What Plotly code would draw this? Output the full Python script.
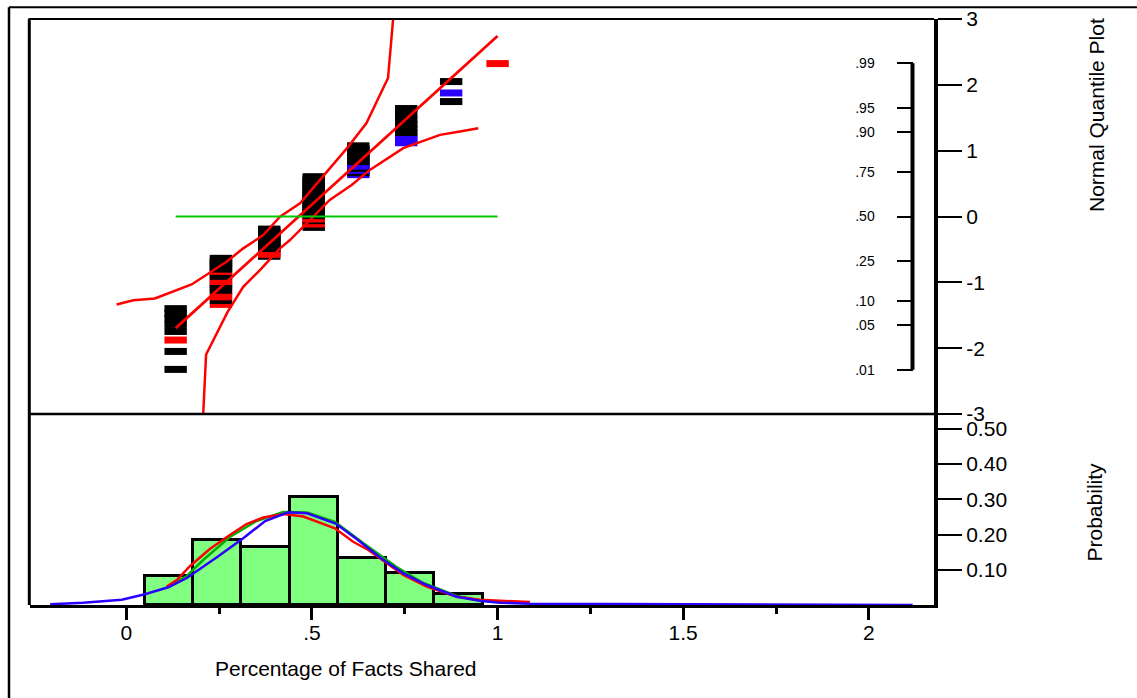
import plotly.graph_objects as go
from statistics import NormalDist

# ---- data -------------------------------------------------------------
# Distinct values of "Percentage of Facts Shared" and how many rows hold each
fact_values = [0.133, 0.255, 0.385, 0.505, 0.625, 0.754, 0.875, 1.0]
row_counts = [8, 18, 16, 30, 13, 9, 3, 1]

# Row-state colours inside each value group, lowest rank first
# (k = black, r = red, b = blue)
row_states = [
    "kkrkkkkk",
    "rkrrkkkrrkkrkkkkkk",
    "krrrkkkkkkkkkkkk",
    "kkrrkrr" + "k" * 23,
    "bkbkbbkkkkkkk",
    "bbbkkkkkk",
    "kbk",
    "r",
]

# Confidence band curves of the normal quantile plot (value, normal quantile)
band_upper_x = [-0.026, 0.019, 0.077, 0.176, 0.270, 0.315, 0.369, 0.414,
                0.468, 0.530, 0.598, 0.647, 0.705, 0.719]
band_upper_z = [-1.336, -1.271, -1.245, -1.032, -0.688, -0.484, -0.282, -0.003,
                0.201, 0.606, 1.062, 1.419, 2.104, 3.02]
band_lower_x = [0.207, 0.215, 0.273, 0.315, 0.360, 0.414, 0.441, 0.486,
                0.548, 0.607, 0.656, 0.746, 0.845, 0.899, 0.948]
band_lower_z = [-3.02, -2.097, -1.449, -1.068, -0.814, -0.484, -0.358, -0.104,
                0.251, 0.479, 0.708, 1.038, 1.240, 1.291, 1.342]

# Histogram bins
hist_start = 0.05
hist_width = 0.13
hist_bins = 7

# Fitted density curves drawn over the histogram (value, probability)
normal_x = [-0.205, -0.116, -0.012, 0.050, 0.113, 0.163, 0.243, 0.315, 0.374,
            0.436, 0.487, 0.564, 0.624, 0.686, 0.746, 0.809, 0.890, 0.952,
            1.006, 1.087, 2.118]
normal_p = [0.002, 0.0065, 0.0148, 0.0304, 0.0502, 0.0766, 0.1348, 0.1892,
            0.2383, 0.2630, 0.2601, 0.2312, 0.1844, 0.1325, 0.0899, 0.0567,
            0.0235, 0.0122, 0.0065, 0.0037, 0.0]
smooth_x = [0.109, 0.136, 0.172, 0.225, 0.279, 0.324, 0.369, 0.423, 0.477,
            0.504, 0.562, 0.611, 0.652, 0.683, 0.746, 0.809, 0.890, 0.952, 1.087]
smooth_p = [0.0525, 0.0709, 0.1106, 0.1589, 0.1986, 0.2298, 0.2482, 0.2582,
            0.2511, 0.2411, 0.2175, 0.1795, 0.1560, 0.1324, 0.0851, 0.0525,
            0.0235, 0.0147, 0.0085]
alt_x = [0.109, 0.163, 0.207, 0.279, 0.351, 0.423, 0.487, 0.562, 0.638, 0.728,
         0.800, 0.890, 0.952, 1.087]
alt_p = [0.0511, 0.0823, 0.1277, 0.1929, 0.2383, 0.2638, 0.2624, 0.2355,
         0.1759, 0.1078, 0.0624, 0.0255, 0.0128, 0.0048]

# Axis ticks
x_ticks = [0, 0.5, 1, 1.5, 2]
x_tick_text = ["0", ".5", "1", "1.5", "2"]
x_minor_ticks = [0.25, 0.75, 1.25, 1.75]
quantile_ticks = [-3, -2, -1, 0, 1, 2, 3]
quantile_tick_text = ["-3", "-2", "-1", "0", "1", "2", "3"]
prob_ticks = [0.01, 0.05, 0.10, 0.25, 0.50, 0.75, 0.90, 0.95, 0.99]
prob_tick_text = [".01", ".05", ".10", ".25", ".50", ".75", ".90", ".95", ".99"]
hist_ticks = [0.10, 0.20, 0.30, 0.40, 0.50]
hist_tick_text = ["0.10", "0.20", "0.30", "0.40", "0.50"]

# ---- derived values ---------------------------------------------------
nd = NormalDist()
n_rows = sum(row_counts)
colour_map = {"k": "#000000", "r": "#ff0000", "b": "#2a00ff"}

pts_x, pts_z, pts_col = [], [], []
rank = 0
for v, c, states in zip(fact_values, row_counts, row_states):
    for j in range(c):
        rank += 1
        pts_x.append(v)
        pts_z.append(nd.inv_cdf(rank / (n_rows + 1)))
        pts_col.append(colour_map[states[j]])

mean = sum(v * c for v, c in zip(fact_values, row_counts)) / n_rows
var = sum(c * (v - mean) ** 2 for v, c in zip(fact_values, row_counts)) / (n_rows - 1)
sd = var ** 0.5
x_lo, x_hi = min(fact_values), max(fact_values)

bin_centres = [hist_start + hist_width * (i + 0.5) for i in range(hist_bins)]
bin_probs = [c / n_rows for c in row_counts[:hist_bins]]

prob_z = [nd.inv_cdf(p) for p in prob_ticks]

# ---- layout geometry --------------------------------------------------
W, H = 1137, 698
ML, MR, MT, MB = 30, 203, 19, 93
PW = W - ML - MR
PH = H - MT - MB
split = 191 / PH          # height share of the histogram panel
x_range = [-0.2593, 2.1755]
hist_top = 191 / 352.5


def px_x(px):
    return (px - ML) / PW


def px_y(py):
    return (H - MB - py) / PH


FONT = "Liberation Sans, Arial, sans-serif"
RED = "#ff0000"
BLUE = "#2a00ff"

fig = go.Figure()

# Normal quantile plot
fig.add_trace(go.Scatter(
    x=pts_x, y=pts_z, mode="markers", xaxis="x", yaxis="y",
    marker=dict(symbol="line-ew", size=16, line=dict(width=7, color=pts_col)),
    hoverinfo="skip", showlegend=False))
fig.add_trace(go.Scatter(
    x=band_upper_x, y=band_upper_z, mode="lines", xaxis="x", yaxis="y",
    line=dict(color=RED, width=2.5), showlegend=False, hoverinfo="skip"))
fig.add_trace(go.Scatter(
    x=band_lower_x, y=band_lower_z, mode="lines", xaxis="x", yaxis="y",
    line=dict(color=RED, width=2.5), showlegend=False, hoverinfo="skip"))
fig.add_trace(go.Scatter(
    x=[x_lo, x_hi], y=[(x_lo - mean) / sd, (x_hi - mean) / sd], mode="lines",
    xaxis="x", yaxis="y", line=dict(color=RED, width=2.8),
    showlegend=False, hoverinfo="skip"))
fig.add_trace(go.Scatter(
    x=[x_lo, x_hi], y=[0, 0], mode="lines", xaxis="x", yaxis="y",
    line=dict(color="#00c800", width=2), showlegend=False, hoverinfo="skip"))
# Probability scale of the quantile plot (drawn on its own axis)
fig.add_trace(go.Scatter(
    x=[x_lo], y=[0], mode="markers", xaxis="x", yaxis="y3",
    marker=dict(opacity=0), showlegend=False, hoverinfo="skip"))

# Histogram
fig.add_trace(go.Bar(
    x=bin_centres, y=bin_probs, width=hist_width, xaxis="x", yaxis="y2",
    marker=dict(color="#80ff80", line=dict(color="#000000", width=3)),
    showlegend=False, hoverinfo="skip"))
fig.add_trace(go.Scatter(
    x=alt_x, y=alt_p, mode="lines", xaxis="x", yaxis="y2",
    line=dict(color="#00b000", width=2.5), showlegend=False, hoverinfo="skip"))
fig.add_trace(go.Scatter(
    x=smooth_x, y=smooth_p, mode="lines", xaxis="x", yaxis="y2",
    line=dict(color=RED, width=2.5), showlegend=False, hoverinfo="skip"))
fig.add_trace(go.Scatter(
    x=normal_x, y=normal_p, mode="lines", xaxis="x", yaxis="y2",
    line=dict(color=BLUE, width=2.5), showlegend=False, hoverinfo="skip"))

tickfont = dict(family=FONT, size=21, color="#000000")

fig.update_layout(
    template="none",
    width=W, height=H,
    margin=dict(l=ML, r=MR, t=MT, b=MB, pad=0, autoexpand=False),
    paper_bgcolor="white", plot_bgcolor="white",
    font=dict(family=FONT, color="#000000"),
    bargap=0,
    xaxis=dict(
        domain=[0, 1], range=x_range, anchor="y2", automargin=False,
        tickvals=x_ticks, ticktext=x_tick_text,
        ticks="outside", ticklen=12, tickwidth=3, tickcolor="#000000",
        minor=dict(tickvals=x_minor_ticks, ticks="outside", ticklen=6,
                   tickwidth=3, tickcolor="#000000"),
        showline=True, linewidth=2.5, linecolor="#000000",
        showgrid=False, zeroline=False, tickfont=tickfont,
        ticklabelstandoff=-5,
    ),
    yaxis=dict(
        domain=[split, 1], range=[-3, 3], anchor="x", side="right",
        automargin=False,
        tickvals=quantile_ticks, ticktext=quantile_tick_text,
        ticks="outside", ticklen=24, tickwidth=2,
        tickcolor="#000000", showline=True, linewidth=4, linecolor="#000000",
        showgrid=False, zeroline=False, tickfont=tickfont,
        ticklabelstandoff=0,
    ),
    yaxis2=dict(
        domain=[0, split], range=[0, hist_top], anchor="x", side="right",
        automargin=False,
        tickvals=hist_ticks, ticktext=hist_tick_text, ticks="outside",
        ticklen=24, tickwidth=2, tickcolor="#000000",
        showline=True, linewidth=4, linecolor="#000000",
        showgrid=False, zeroline=False, tickfont=tickfont,
        ticklabelstandoff=0,
    ),
    yaxis3=dict(
        domain=[split, 1], range=[-3, 3], overlaying="y", anchor="free",
        position=px_x(912.5), side="left", automargin=False,
        tickvals=prob_z, ticktext=prob_tick_text, ticks="outside",
        ticklen=16, tickwidth=2, tickcolor="#000000",
        showline=False, showgrid=False, zeroline=False,
        tickfont=dict(family=FONT, size=14, color="#000000"),
        ticklabelstandoff=19,
    ),
)

shapes = [
    # bracket of the probability scale
    dict(type="line", xref="paper", yref="y", x0=px_x(912.5), x1=px_x(912.5),
         y0=prob_z[0], y1=prob_z[-1], line=dict(color="#000000", width=4)),
    # top border of the quantile panel
    dict(type="line", xref="paper", yref="paper", x0=px_x(28.5), x1=1,
         y0=1, y1=1, line=dict(color="#000000", width=2)),
    # panel separator
    dict(type="line", xref="paper", yref="paper", x0=px_x(28.5), x1=1,
         y0=split, y1=split, line=dict(color="#000000", width=2.5)),
    # left border of both panels
    dict(type="line", xref="paper", yref="paper", x0=px_x(29.3), x1=px_x(29.3),
         y0=px_y(605), y1=1, line=dict(color="#000000", width=3)),
    # outer frame
    dict(type="line", xref="paper", yref="paper", x0=px_x(9), x1=px_x(1137),
         y0=px_y(7.3), y1=px_y(7.3), line=dict(color="#000000", width=2)),
    dict(type="line", xref="paper", yref="paper", x0=px_x(9), x1=px_x(9),
         y0=px_y(700), y1=px_y(7.3), line=dict(color="#000000", width=2.5)),
]
fig.update_layout(shapes=shapes)

fig.update_layout(annotations=[
    dict(text="Normal Quantile Plot", xref="paper", yref="paper",
         x=px_x(1096), y=px_y(115), textangle=-90, showarrow=False,
         xanchor="center", yanchor="middle",
         font=dict(family=FONT, size=21, color="#000000")),
    dict(text="Probability", xref="paper", yref="paper",
         x=px_x(1094), y=px_y(512.5), textangle=-90, showarrow=False,
         xanchor="center", yanchor="middle",
         font=dict(family=FONT, size=21, color="#000000")),
    dict(text="Percentage of Facts Shared", xref="paper", yref="paper",
         x=px_x(345.7), y=px_y(668), showarrow=False,
         xanchor="center", yanchor="middle",
         font=dict(family=FONT, size=21, color="#000000")),
])

fig.write_html("out.html")
